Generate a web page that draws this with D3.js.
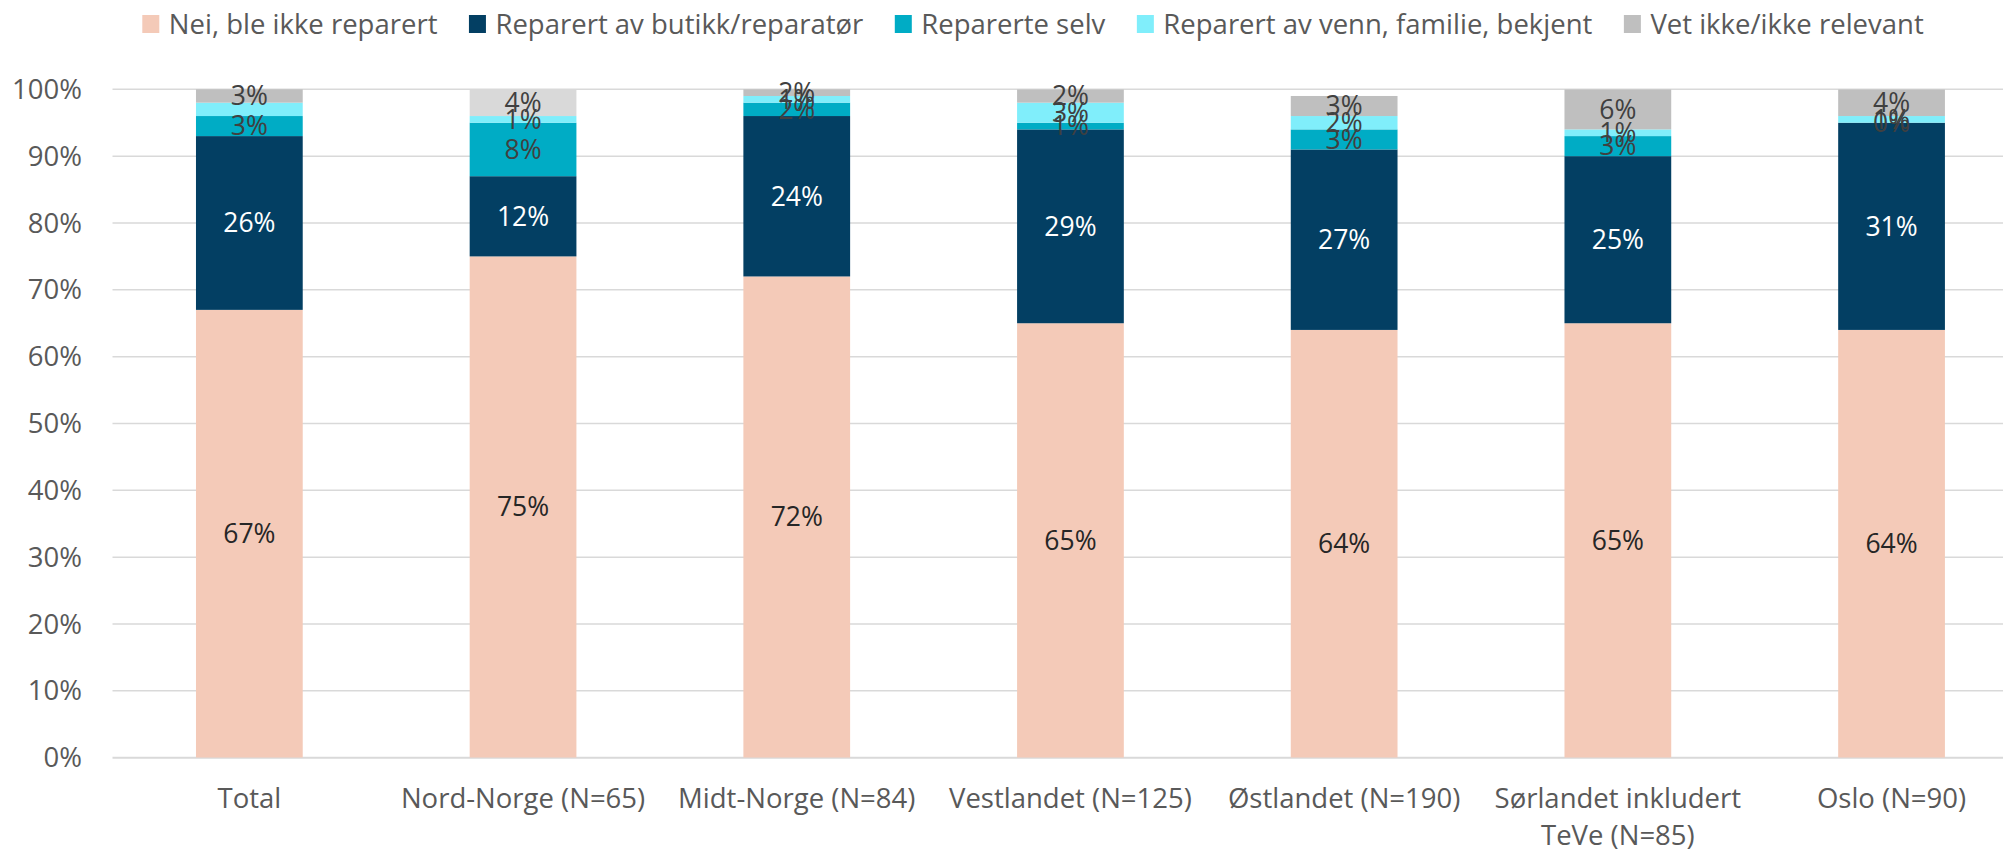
<!DOCTYPE html>
<html>
<head>
<meta charset="utf-8">
<script src="https://cdn.jsdelivr.net/npm/d3@7"></script>
<style>
  body { margin: 0; background: #fff; }
  text { font-family: "Open Sans", sans-serif; }
</style>
</head>
<body>
<div id="chart"></div>
<script>
// data (percent)
const categories = ["Total", "Nord-Norge (N=65)", "Midt-Norge (N=84)", "Vestlandet (N=125)",
    "Østlandet (N=190)", "Sørlandet inkludert TeVe (N=85)", "Oslo (N=90)"];
const seriesNames = ["Nei, ble ikke reparert", "Reparert av butikk/reparatør", "Reparerte selv",
    "Reparert av venn, familie, bekjent", "Vet ikke/ikke relevant"];
const notRepaired = [67, 75, 72, 65, 64, 65, 64];
const shopRepaired = [26, 12, 24, 29, 27, 25, 31];
const selfRepaired = [3, 8, 2, 1, 3, 3, 0];
const friendRepaired = [2, 1, 1, 3, 2, 1, 1];
const dontKnow = [3, 4, 2, 2, 3, 6, 4];
const yTicks = [0, 0.1, 0.2, 0.3, 0.4, 0.5, 0.6, 0.7, 0.8, 0.9, 1];

const colors = ["#f4cab8", "#033f63", "#00acc5", "#80eefb", "#bfbfbf"];
const labelColors = ["#262626", "#ffffff", "#404040", "#404040", "#404040"];

const width = 2003, height = 852;
const left = 112.5, step = 273.7;
const yTop = 89.3, yBottom = 757.7;

const svg = d3.select("#chart").append("svg")
    .attr("width", width)
    .attr("height", height);

const x = d3.scaleBand()
    .domain(categories)
    .range([left, left + step * categories.length])
    .paddingInner(0.61)
    .paddingOuter(0.305);

const y = d3.scaleLinear()
    .domain([0, 1])
    .range([yBottom, yTop]);

// gridlines
svg.append("g")
    .selectAll("line")
    .data(yTicks)
    .enter().append("line")
    .attr("x1", left)
    .attr("x2", width)
    .attr("y1", d => y(d))
    .attr("y2", d => y(d))
    .attr("stroke", "#d9d9d9")
    .attr("stroke-width", d => d === 0 ? 2 : 1.5);

// y tick labels
svg.append("g")
    .selectAll("text")
    .data(yTicks)
    .enter().append("text")
    .attr("x", 82)
    .attr("y", d => y(d))
    .attr("dy", "0.35em")
    .attr("text-anchor", "end")
    .attr("fill", "#595959")
    .style("font-size", "27.5px")
    .text(d3.format(".0%"));

const table = categories.map((c, i) => ({
    cat: c,
    s0: notRepaired[i] / 100,
    s1: shopRepaired[i] / 100,
    s2: selfRepaired[i] / 100,
    s3: friendRepaired[i] / 100,
    s4: dontKnow[i] / 100
}));
const stack = d3.stack().keys(["s0", "s1", "s2", "s3", "s4"])(table);

// clip so bars stop at 100% like the axis max
svg.append("clipPath").attr("id", "plot-clip")
    .append("rect")
    .attr("x", 0).attr("y", yTop)
    .attr("width", width).attr("height", yBottom - yTop);

const bars = svg.append("g").attr("clip-path", "url(#plot-clip)");
stack.forEach((layer, si) => {
    bars.append("g")
        .selectAll("rect")
        .data(layer)
        .enter().append("rect")
        .attr("x", d => x(d.data.cat))
        .attr("width", x.bandwidth())
        .attr("y", d => y(d[1]))
        .attr("height", d => y(d[0]) - y(d[1]))
        .attr("fill", d => (si === 4 && d.data.cat === "Nord-Norge (N=65)") ? "#d9d9d9" : colors[si]);
});

// data labels (centre of the visible part of each segment)
stack.forEach((layer, si) => {
    svg.append("g")
        .selectAll("text")
        .data(layer.filter(d => !(si === 3 && d.data.cat === "Total")))
        .enter().append("text")
        .attr("x", d => x(d.data.cat) + x.bandwidth() / 2)
        .attr("y", d => (y(d[0]) + y(Math.min(d[1], 1))) / 2)
        .attr("dy", "0.35em")
        .attr("text-anchor", "middle")
        .attr("fill", labelColors[si])
        .style("font-size", "26.5px")
        .text(d => d3.format(".0%")(d[1] - d[0]));
});

// category labels, wrapped to the band width
const catLabels = svg.append("g")
    .selectAll("text")
    .data(categories)
    .enter().append("text")
    .attr("x", d => x(d) + x.bandwidth() / 2)
    .attr("y", 808)
    .attr("text-anchor", "middle")
    .attr("fill", "#595959")
    .style("font-size", "27.5px");

catLabels.each(function(d) {
    const t = d3.select(this);
    const words = d.split(" ");
    let line = [];
    let tspan = t.append("tspan").attr("x", x(d) + x.bandwidth() / 2).attr("dy", 0);
    words.forEach(w => {
        line.push(w);
        tspan.text(line.join(" "));
        if (tspan.node().getComputedTextLength() > step - 10 && line.length > 1) {
            line.pop();
            tspan.text(line.join(" "));
            line = [w];
            tspan = t.append("tspan").attr("x", x(d) + x.bandwidth() / 2).attr("dy", 37).text(w);
        }
    });
});

// legend
const legend = svg.append("g");
let lx = 0;
seriesNames.forEach((name, i) => {
    const g = legend.append("g").attr("transform", `translate(${lx},0)`);
    g.append("rect")
        .attr("x", 0).attr("y", 15)
        .attr("width", 17).attr("height", 18)
        .attr("fill", colors[i]);
    const t = g.append("text")
        .attr("x", 26.5).attr("y", 24)
        .attr("dy", "0.35em")
        .attr("fill", "#595959")
        .style("font-size", "27.5px")
        .text(name);
    lx += 26.5 + t.node().getComputedTextLength() + 31.5;
});
const legendWidth = lx - 31.5;
legend.attr("transform", `translate(${1033 - legendWidth / 2},0)`);
</script>
</body>
</html>
